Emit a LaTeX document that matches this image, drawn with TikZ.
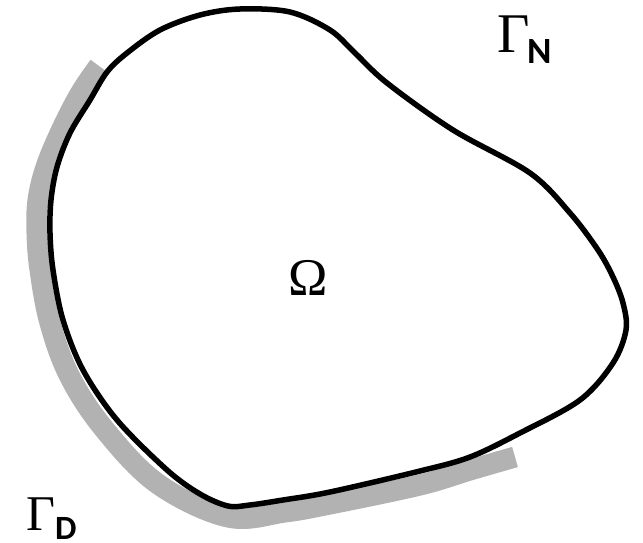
\documentclass[tikz,border=0pt]{standalone}
\usepackage{fontspec}
\newfontfamily\gserif{Liberation Serif}
\newfontfamily\gsans{Carlito}
\definecolor{bandgrey}{RGB}{178,178,178}
\tikzset{
  boundary/.style={draw=black, line width=5.5pt, line join=round},
  dirband/.style={draw=bandgrey, line width=21pt, line cap=butt, line join=round},
  lbl/.style={inner sep=0pt, outer sep=0pt}
}
\begin{document}
\begin{tikzpicture}[x=1pt,y=-1pt]
\useasboundingbox (0,0) rectangle (643,543);
% Dirichlet part (grey band)
\draw[dirband] plot[smooth, tension=0.6] coordinates {
  (99,66) (80,94) (61,131) (46,167) (38,200) (37,233) (40,270)
  (50,323) (70,377) (105,430) (158,484) (228,517) (285,512)
  (330,504) (420,485) (470,470) (515,457)};
% domain boundary
\draw[boundary] plot[smooth cycle, tension=0.55] coordinates {
  (240,9) (290,12) (330,30) (355,53) (387,83) (453,130) (530,173)
  (570,213) (598,250) (613,277) (623,303) (626,330) (613,363)
  (580,400) (520,433) (470,457) (420,471) (330,492) (283,500)
  (250,505) (228,506) (200,494) (167,470) (117,420) (83,370) (63,320) (53,270)
  (50,233) (51,200) (57,167) (70,133) (90,100) (107,72) (127,53)
  (160,30) (200,15)};
\node[lbl, anchor=base] (omega) at (308,295) {\gserif\fontsize{53pt}{53pt}\selectfont Ω};
\node[lbl, anchor=base west] (gn) at (497,53)
  {\makebox[30pt][l]{\gserif\fontsize{56pt}{56pt}\selectfont Γ}\raisebox{-10pt}{\gsans\bfseries\fontsize{37pt}{37pt}\selectfont N}};
\node[lbl, anchor=base west] (gd) at (26,530)
  {\makebox[29pt][l]{\gserif\fontsize{50pt}{50pt}\selectfont Γ}\raisebox{-9pt}{\gsans\bfseries\fontsize{34pt}{34pt}\selectfont D}};
\end{tikzpicture}
\end{document}
